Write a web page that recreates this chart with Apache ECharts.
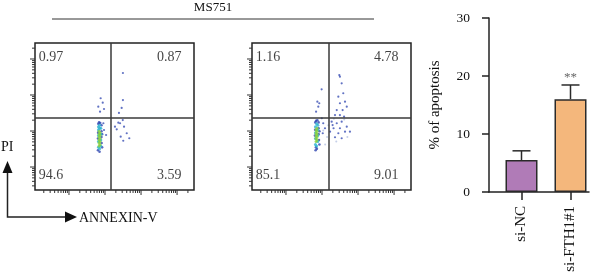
<!DOCTYPE html>
<html>
<head>
<meta charset="utf-8">
<script src="https://cdn.jsdelivr.net/npm/echarts@6/dist/echarts.min.js"></script>
<style>html,body{margin:0;padding:0;background:#fff}#main{width:600px;height:277px}</style>
</head>
<body>
<div id="main"></div>
<script>
// quadrant percentages: [UL, UR, LL, LR]
let quad_nc = [0.97, 0.87, 94.6, 3.59];
let quad_fth = [1.16, 4.78, 85.1, 9.01];
// quadrant gates (0-100 plot units)
let gate_x = [47.8, 48.4];
let gate_y = [49, 49];

// events (0-100 plot units)
let nc_core = [[40.3,30],[40.3,32],[40.3,34],[40.3,36],[40.3,38],[40.3,40],[40.9,31],[40.9,33],[40.9,35],[40.9,37],[40.9,39]];
let nc_mid = [[39.9,29],[39.9,33],[39.9,37],[39.9,41],[39.9,43],[41.4,30],[41.4,34],[41.4,38],[41.4,42],[40.6,42],[40.6,44],[40.6,28]];
let nc_edge = [[40.3,46],[41.0,45.5],[39.8,45],[41.8,44],[41.8,40],[41.8,36],[41.9,32],[39.6,27],[40.6,26],[42.2,38],[42.2,29],[39.7,39],[39.6,35]];
let nc_sparse = [[41.3,62.4],[42.6,59.4],[40.9,53.3],[43.4,55.1],[39.8,56.7],[55.3,79.6],[55.3,61.2],[54.5,55.8],[52.8,52.4],
  [55.2,47.6],[52.4,45.8],[56.0,43.1],[51.4,41.3],[57.7,38.6],[53.9,36.3],[59.3,35.2],[50.3,43.1],[55.5,33.5],[53.5,45.4],
  [43.4,40.8],[44.7,37.4],[43.0,45.4]];

let fth_core = [[40.3,33],[40.3,35],[40.3,37],[40.3,39],[40.3,41],[40.9,34],[40.9,36],[40.9,38],[40.9,40],[40.9,42]];
let fth_mid = [[39.9,31],[39.9,35],[39.9,39],[39.9,43],[41.4,33],[41.4,37],[41.4,41],[41.4,44],[40.6,45],[40.6,30]];
let fth_edge = [[40.3,47],[41.1,47.5],[39.8,46],[41.9,46],[41.9,42],[41.9,38],[42.1,34],[40.2,29],[40.8,28],[42.4,40],[42.4,31],[39.7,41],[39.6,37],[40.0,27]];
let fth_sparse = [[41.1,60.1],[41.7,56.7],[40.3,53.3],[43.8,68.5],[42.3,59.0],[54.9,78.2],[56.4,72.6],[57.4,65.8],[54.3,63.5],
  [55.3,59.0],[58.5,60.1],[53.3,54.4],[57.0,54.4],[59.6,56.7],[52.2,51.0],[55.3,51.0],[57.9,49.9],[50.1,46.5],[53.3,45.4],
  [56.4,46.5],[51.3,42.0],[55.3,42.0],[59.6,43.1],[49.1,39.7],[54.3,38.6],[58.5,39.7],[61.6,39.7],[52.2,35.9],[56.4,35.2],
  [50.7,44.2],[44.8,45.4],[45.9,42.0],[44.5,38.6],[43.9,48.8],[55.3,77.1]];
let fth_faint = [[44.8,40.5],[47.2,36],[51.5,48.5],[58,48],[53,33],[60,36],[48,44],[46,31]];

// bar chart
let categories = ['si-NC', 'si-FTH1#1'];
let apoptosis = [5.5, 16.0];
let apoptosis_sd = [1.6, 2.45];
let sig_marks = ['', '**'];
let bar_colors = ['#b07bb7', '#f4b77c'];

// log axis decoration (decades and multipliers)
let decades = [10, 100, 1000, 10000, 100000];
let mults = [1, 2, 3, 4, 5, 6, 7, 8, 9];

let chart = echarts.init(document.getElementById('main'));
let serif = 'Liberation Serif';
let ink = '#111';
let flow_grids = [{left: 35, top: 43, width: 159, height: 147}, {left: 252, top: 43, width: 159, height: 147}];
let log_x = [11.4, 295000];
let log_y = [23, 278000];

function tick_data() {
    let out = [];
    decades.forEach(function (d) {
        mults.forEach(function (m) {
            let v = d * m;
            if (v > log_x[0] && v < log_x[1]) out.push([v, log_y[0], 0, m === 1 ? 1 : 0]);
            if (v > log_y[0] && v < log_y[1]) out.push([log_x[0], v, 1, m === 1 ? 1 : 0]);
        });
    });
    return out;
}

function render_tick(params, api) {
    let pt = api.coord([api.value(0), api.value(1)]);
    let len = api.value(3) ? 5 : 3;
    let shape = api.value(2) === 0
        ? {x1: pt[0], y1: pt[1], x2: pt[0], y2: pt[1] + len}
        : {x1: pt[0] - len, y1: pt[1], x2: pt[0], y2: pt[1]};
    return {type: 'line', shape: shape, style: {stroke: '#333', lineWidth: 1}};
}

function quad_labels(vals) {
    let pos = [[2, 90, 'right'], [92.5, 90, 'left'], [2, 10, 'right'], [92.5, 10, 'left']];
    return vals.map(function (v, i) {
        return {value: [pos[i][0], pos[i][1]], label: {position: pos[i][2]}, name: String(v)};
    });
}

function flow_series(k, core, mid, edge, sparse, faint, quad) {
    let ax = {xAxisIndex: 2 * k, yAxisIndex: 2 * k, silent: true, animation: false};
    let list = [
        Object.assign({type: 'scatter', data: faint, symbolSize: 2, itemStyle: {color: '#b7c3e2'}}, ax),
        Object.assign({type: 'scatter', data: sparse, symbolSize: 2.2, itemStyle: {color: '#3a4fb4'},
            markLine: {silent: true, symbol: 'none', label: {show: false},
                lineStyle: {color: '#3a3a3a', width: 1.5, type: 'solid'},
                data: [{xAxis: gate_x[k]}, {yAxis: gate_y[k]}]}}, ax),
        Object.assign({type: 'scatter', data: edge, symbolSize: 2.6, itemStyle: {color: '#2f45b0'}}, ax),
        Object.assign({type: 'scatter', data: mid, symbolSize: 3, itemStyle: {color: '#2bb3cf'}}, ax),
        Object.assign({type: 'scatter', data: core, symbolSize: 3, itemStyle: {color: '#86d03c'}}, ax),
        Object.assign({type: 'scatter', data: quad_labels(quad), symbolSize: 1, itemStyle: {color: 'rgba(0,0,0,0)'},
            label: {show: true, distance: 0, formatter: '{b}', color: ink, fontFamily: serif, fontSize: 14}}, ax),
        {type: 'custom', xAxisIndex: 2 * k + 1, yAxisIndex: 2 * k + 1, data: tick_data(), renderItem: render_tick,
            silent: true, animation: false}
    ];
    return list;
}

let x_axes = [], y_axes = [];
flow_grids.forEach(function (g, k) {
    x_axes.push({type: 'value', gridIndex: k, min: 0, max: 100, show: false});
    x_axes.push({type: 'log', gridIndex: k, min: log_x[0], max: log_x[1], show: false});
    y_axes.push({type: 'value', gridIndex: k, min: 0, max: 100, show: false});
    y_axes.push({type: 'log', gridIndex: k, min: log_y[0], max: log_y[1], show: false});
});
// bar grid (index 2) and frame grid (index 3)
x_axes.push({type: 'category', gridIndex: 2, data: categories,
    axisLine: {show: false},
    axisTick: {show: true, alignWithLabel: true, length: 8, lineStyle: {color: '#222', width: 1.5}},
    axisLabel: {rotate: 90, margin: 14, color: ink, fontFamily: serif, fontSize: 15}});
x_axes.push({type: 'value', gridIndex: 3, min: 0, max: 1, axisTick: {show: false}, axisLabel: {show: false},
    splitLine: {show: false}, axisLine: {lineStyle: {color: '#222', width: 1.5}}});
y_axes.push({type: 'value', gridIndex: 2, min: 0, max: 30, interval: 10, show: false});
y_axes.push({type: 'value', gridIndex: 3, min: 0, max: 30, interval: 10,
    name: '% of apoptosis', nameLocation: 'middle', nameGap: 46,
    nameTextStyle: {color: ink, fontFamily: serif, fontSize: 15},
    axisLine: {show: true, lineStyle: {color: '#222', width: 1.5}},
    axisTick: {show: true, length: 7, lineStyle: {color: '#222', width: 1.5}},
    axisLabel: {margin: 19, color: ink, fontFamily: serif, fontSize: 13.5},
    splitLine: {show: false}});

let series = [].concat(
    flow_series(0, nc_core, nc_mid, nc_edge, nc_sparse, [], quad_nc),
    flow_series(1, fth_core, fth_mid, fth_edge, fth_sparse, fth_faint, quad_fth)
);
series.push({type: 'bar', xAxisIndex: 4, yAxisIndex: 4, barWidth: 32, silent: true, animation: false,
    data: apoptosis.map(function (v, i) {
        return {value: v, itemStyle: {color: bar_colors[i], borderColor: '#2a2a2a', borderWidth: 1.5}};
    })});
series.push({type: 'custom', xAxisIndex: 4, yAxisIndex: 4, silent: true, animation: false, z: 5,
    data: apoptosis.map(function (v, i) { return [i, v, apoptosis_sd[i]]; }),
    renderItem: function (params, api) {
        let i = api.value(0);
        let base = api.coord([i, api.value(1)]);
        let top = api.coord([i, api.value(1) + api.value(2)]);
        let kids = [
            {type: 'line', shape: {x1: base[0], y1: base[1], x2: top[0], y2: top[1]}, style: {stroke: '#2a2a2a', lineWidth: 1.5}},
            {type: 'line', shape: {x1: top[0] - 9, y1: top[1], x2: top[0] + 9, y2: top[1]}, style: {stroke: '#2a2a2a', lineWidth: 1.5}}
        ];
        if (sig_marks[i]) {
            kids.push({type: 'text', x: top[0], y: top[1] - 7,
                style: {text: sig_marks[i], fill: '#666', font: '13px ' + serif, align: 'center', verticalAlign: 'middle'}});
        }
        return {type: 'group', children: kids};
    }});

let option = {
    backgroundColor: '#fff',
    animation: false,
    grid: [
        Object.assign({show: true, borderColor: '#222', borderWidth: 1.5, backgroundColor: 'transparent'}, flow_grids[0]),
        Object.assign({show: true, borderColor: '#222', borderWidth: 1.5, backgroundColor: 'transparent'}, flow_grids[1]),
        {left: 497, top: 18, width: 98, height: 174},
        {left: 489, top: 18, width: 100, height: 174}
    ],
    xAxis: x_axes,
    yAxis: y_axes,
    series: series,
    graphic: [
        {type: 'text', x: 213, y: 8, style: {text: 'MS751', fill: ink, font: '13px ' + serif, align: 'center', verticalAlign: 'middle'}},
        {type: 'line', shape: {x1: 52, y1: 19, x2: 374, y2: 19}, style: {stroke: '#333', lineWidth: 1}},
        {type: 'text', x: 1, y: 147, style: {text: 'PI', fill: ink, font: '14px ' + serif, verticalAlign: 'middle'}},
        {type: 'polyline', shape: {points: [[7.5, 172], [7.5, 217], [66, 217]]}, style: {stroke: '#222', lineWidth: 1.5, fill: null}},
        {type: 'polygon', shape: {points: [[7.5, 161], [2.5, 173], [12.5, 173]]}, style: {fill: '#111'}},
        {type: 'polygon', shape: {points: [[77, 217], [65, 211.5], [65, 222.5]]}, style: {fill: '#111'}},
        {type: 'text', x: 79, y: 218, style: {text: 'ANNEXIN-V', fill: ink, font: '14px ' + serif, verticalAlign: 'middle'}}
    ]
};
chart.setOption(option);
</script>
</body>
</html>
